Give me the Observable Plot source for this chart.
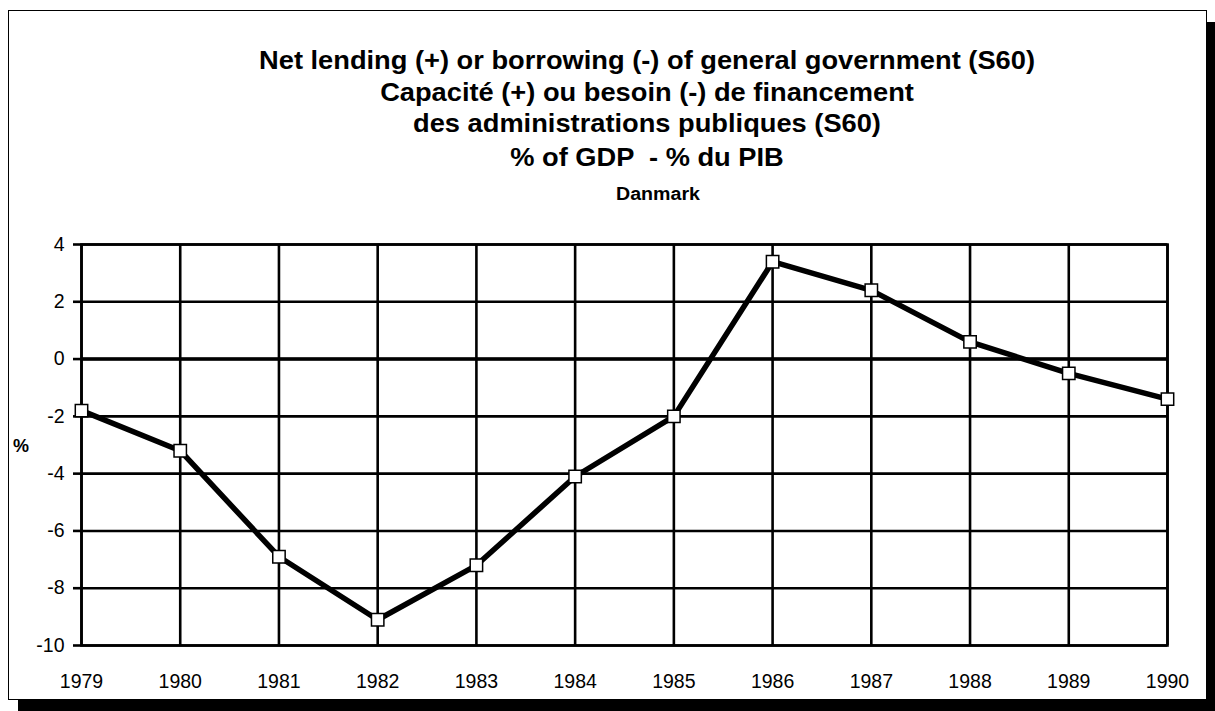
<!DOCTYPE html>
<html>
<head>
<meta charset="utf-8">
<script src="https://cdn.jsdelivr.net/npm/d3@7"></script>
<script src="https://cdn.jsdelivr.net/npm/@observablehq/plot@0.6"></script>
<style>
  html, body { margin: 0; padding: 0; background: #fff; }
  #wrap { position: relative; width: 1215px; height: 711px; overflow: hidden; background: #fff; font-family: "Liberation Sans", Arial, Helvetica, sans-serif; }
  #frame { position: absolute; left: 8px; top: 10px; width: 1197px; height: 688px; border: 1px solid #000; box-shadow: 10px 12px 0 #000; background: #fff; }
  #titles { position: relative; height: 225px; width: 1215px; }
  .tl { position: absolute; left: 0; width: 1294px; text-align: center; font-weight: bold; color: #000; white-space: pre; line-height: 1; transform: scaleX(1.09); transform-origin: 647px 0; }
  .big { font-size: 25px; }
  .small { font-size: 18px; width: 1316px; transform-origin: 658px 0; }
  #chart { position: relative; }
  #ylab { position: absolute; left: 13px; top: 436px; font-size: 18px; font-weight: bold; }
</style>
</head>
<body>
<div id="wrap">
  <div id="frame"></div>
  <div id="titles"></div>
  <div id="chart"></div>
  <div id="ylab">%</div>
</div>
<script>
const titleLines = [
  "Net lending (+) or borrowing (-) of general government (S60)",
  "Capacité (+) ou besoin (-) de financement",
  "des administrations publiques (S60)",
  "% of GDP  - % du PIB"
];
const subtitle = "Danmark";
const years = [1979, 1980, 1981, 1982, 1983, 1984, 1985, 1986, 1987, 1988, 1989, 1990];
const values = [-1.8, -3.2, -6.9, -9.1, -7.2, -4.1, -2.0, 3.4, 2.4, 0.6, -0.5, -1.4];
const yTicks = [-10, -8, -6, -4, -2, 0, 2, 4];

const titleTops = [48, 80, 111, 145];
const tdiv = document.getElementById("titles");
titleLines.forEach((t, i) => {
  const d = document.createElement("div");
  d.className = "tl big";
  d.style.top = titleTops[i] + "px";
  d.textContent = t;
  tdiv.appendChild(d);
});
const s = document.createElement("div");
s.className = "tl small";
s.style.top = "185px";
s.textContent = subtitle;
tdiv.appendChild(s);

const data = years.map((y, i) => ({year: y, value: values[i]}));

const chart = Plot.plot({
  width: 1215,
  height: 486,
  marginTop: 19,
  marginBottom: 66,
  marginLeft: 81,
  marginRight: 48,
  style: {fontFamily: '"Liberation Sans", Arial, Helvetica, sans-serif', fontSize: "19.5px", color: "#000", background: "transparent"},
  x: {domain: [1979, 1990], label: null},
  y: {domain: [-10, 4], label: null},
  marks: [
    Plot.ruleX(years, {stroke: "#000", strokeWidth: 2.6}),
    Plot.ruleY(yTicks, {stroke: "#000", strokeWidth: 2.6}),
    Plot.ruleY([0], {stroke: "#000", strokeWidth: 3.6}),
    Plot.frame({stroke: "#000", strokeWidth: 2.6}),
    Plot.axisY({ticks: yTicks, tickFormat: d => String(d), tickSize: 8, tickPadding: 9, strokeWidth: 2.6, fontSize: 19.5}),
    Plot.axisX({ticks: years, tickFormat: d => String(d), tickSize: 0, tickPadding: 29, fontSize: 19.5}),
    Plot.line(data, {x: "year", y: "value", stroke: "#000", strokeWidth: 5.5, strokeLinejoin: "miter"}),
    Plot.dot(data, {x: "year", y: "value", symbol: "square", r: 7, fill: "#fff", stroke: "#000", strokeWidth: 1.5})
  ]
});
document.getElementById("chart").appendChild(chart);
</script>
</body>
</html>
